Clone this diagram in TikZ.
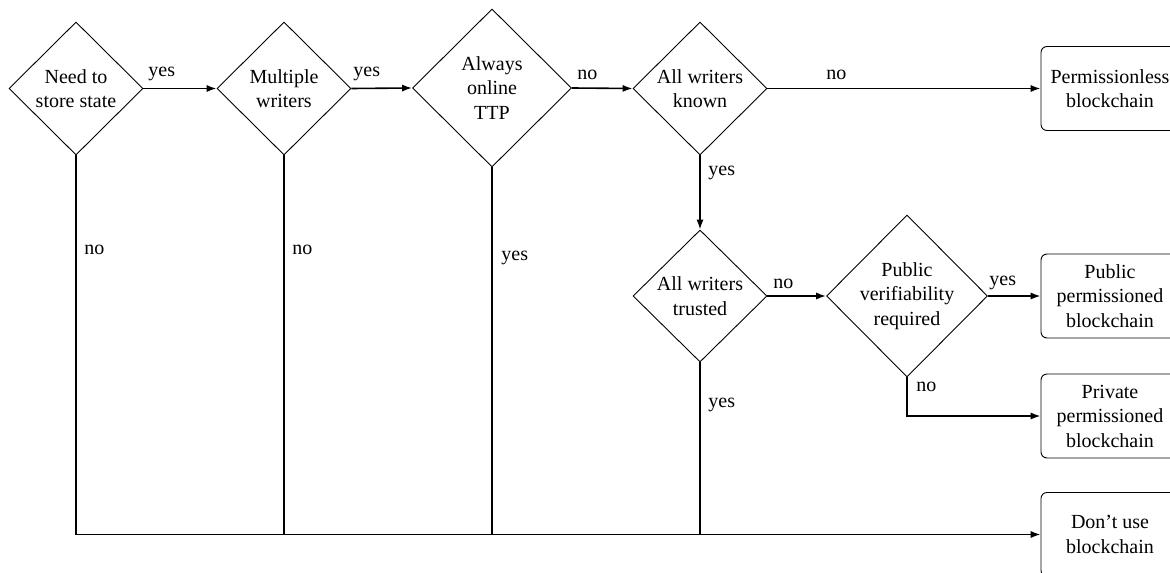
\documentclass[tikz,border=0pt]{standalone}
\usepackage{fontspec}
\setmainfont{Liberation Serif}
\usetikzlibrary{shapes.geometric,arrows.meta}
\begin{document}
\begin{tikzpicture}[x=0.5pt,y=-0.5pt,
  every node/.style={font=\fontsize{10}{12.25}\selectfont},
  dia/.style={shape=diamond, draw, line width=0.45pt, inner sep=0pt},
  outbox/.style={draw, line width=0.45pt, rounded corners=3pt, align=center,
    minimum width=69pt, minimum height=42pt, inner sep=0pt},
  conn/.style={line width=0.8pt},
  arr/.style={conn, -{Latex[length=5pt,width=3.6pt]}},
  lbl/.style={anchor=base west, inner sep=0pt}]
\useasboundingbox (0,0) rectangle (1170,572);

% decisions
\node[dia, minimum width=67pt, minimum height=66.5pt,
  label={[align=center]center:Need to\\store state}] (d1) at (76,88.5) {};
\node[dia, minimum width=67pt, minimum height=66.5pt,
  label={[align=center]center:Multiple\\writers}] (d2) at (284,88.5) {};
\node[dia, minimum width=79.5pt, minimum height=79pt,
  label={[align=center]center:Always\\online\\TTP}] (d3) at (492,88) {};
\node[dia, minimum width=67pt, minimum height=66.5pt,
  label={[align=center]center:All writers\\known}] (d4) at (700,88.5) {};
\node[dia, minimum width=67pt, minimum height=66pt,
  label={[align=center]center:All writers\\trusted}] (d5) at (700,296) {};
\node[dia, minimum width=80.5pt, minimum height=81pt,
  label={[align=center]center:Public\\verifiability\\required}] (d6) at (907,296) {};

% outcomes
\node[outbox] (perm) at (1110,88.5) {Permissionless\\blockchain};
\node[outbox] (pub) at (1110,296) {Public\\permissioned\\blockchain};
\node[outbox] (priv) at (1110,416) {Private\\permissioned\\blockchain};
\node[outbox] (dont) at (1110,534.5) {Don't use\\blockchain};

% connectors
\draw[arr] (d1.east) -- (d2.west);
\draw[arr] (d2.east) -- (d3.west);
\draw[arr] (d3.east) -- (d4.west);
\draw[arr] (d4.east) -- (perm.west);
\draw[arr] (d4.south) -- (d5.north);
\draw[arr] (d5.east) -- (d6.west);
\draw[arr] (d6.east) -- (pub.west);
\draw[arr] (d6.south) |- (priv.west);
\draw[arr] (d1.south) |- (dont.west);
\draw[conn] (d2.south) -- (d2.south |- dont.west);
\draw[conn] (d3.south) -- (d3.south |- dont.west);
\draw[conn] (d5.south) -- (d5.south |- dont.west);

% labels
\node[lbl] (l1) at (148,76.5) {yes};
\node[lbl] (l2) at (353,76.5) {yes};
\node[lbl] (l3) at (577,80) {no};
\node[lbl] (l4) at (826,80) {no};
\node[lbl] (l5) at (708,176) {yes};
\node[lbl] (l6) at (84,254) {no};
\node[lbl] (l7) at (292,254) {no};
\node[lbl] (l8) at (501,260) {yes};
\node[lbl] (l9) at (773,288) {no};
\node[lbl] (l10) at (989,285) {yes};
\node[lbl] (l11) at (916,391) {no};
\node[lbl] (l12) at (708,407) {yes};
\end{tikzpicture}
\end{document}
